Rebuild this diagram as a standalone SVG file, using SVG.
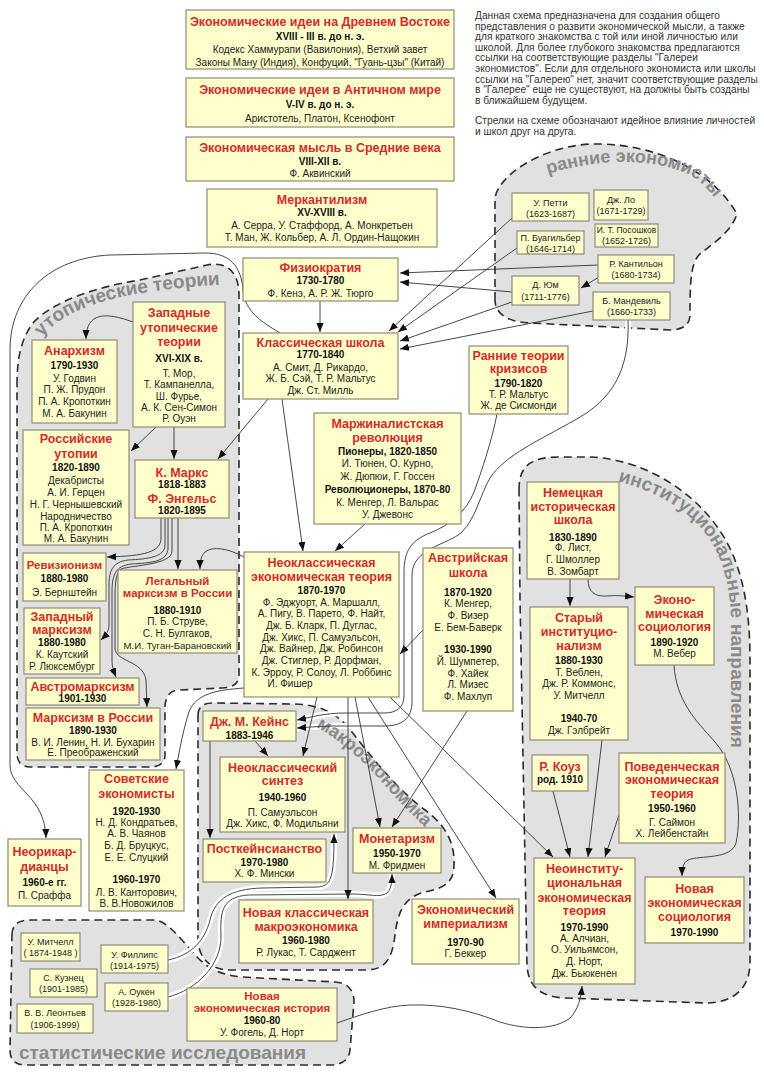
<svg xmlns="http://www.w3.org/2000/svg" width="764" height="1080" viewBox="0 0 764 1080">
<defs>
<style>
text{font-family:"Liberation Sans",Arial,sans-serif}
.box{fill:#ffffcc;stroke:#8c8c7a;stroke-width:1.2}
.t{font-size:12.5px;font-weight:bold;fill:#d42b2b;text-anchor:middle}
.t2{font-size:11.5px;font-weight:bold;fill:#d42b2b;text-anchor:middle}
.d{font-size:10px;font-weight:bold;fill:#111;text-anchor:middle}
.n{font-size:10px;fill:#222;text-anchor:middle}
.s{font-size:9px;fill:#222;text-anchor:middle}
.p{font-size:10.2px;fill:#333}
.rg{fill:#e1e1e1;stroke:#2b2b2b;stroke-width:1.6;stroke-dasharray:8 5}
.lb{font-size:19px;font-weight:bold;fill:#8a8a8a}
.c{fill:none;stroke:#333;stroke-width:0.9;marker-end:url(#a)}
.h{fill:none;stroke:#fff;stroke-width:6}
</style>
<marker id="a" viewBox="0 0 10 8" refX="10" refY="4" markerWidth="9" markerHeight="7.5" markerUnits="userSpaceOnUse" orient="auto"><path d="M0,0L10,4L0,8z" fill="#111"/></marker>
<path id="p-early" d="M548,174 C595,159 650,157 688,174 C703,182 713,194 723,212"/>
<path id="p-utop" d="M42,337 C68,304 128,290 230,284"/>
<path id="p-inst" d="M598,478 C645,484 690,508 710,540 C724,562 731,590 731,625 L731,790"/>
<path id="p-macro" d="M316,727 C340,740 362,760 380,780 C397,800 412,815 436,838"/>
</defs>
<rect width="764" height="1080" fill="#fff"/>

<g id="regions">
<path class="rg" d="M495,300 L495,200 C495,178 540,146 592,144 C655,143 712,170 737,214 C730,235 708,246 698,256 C691,266 690,280 690,315 C690,325 682,330 670,330 L530,323 C505,322 495,312 495,300 Z"/>
<path class="rg" d="M17,385 C17,355 22,338 33,323 C52,302 95,287 140,280 L207,265 C227,261 239,272 239,295 L239,675 C239,684 232,688 222,688 L180,690 C170,690 165,696 165,708 L165,755 C165,763 159,767 150,767 L30,767 C22,767 17,762 17,754 Z"/>
<path class="rg" d="M519,490 C519,466 530,457 560,457 L592,457 C642,460 690,488 718,528 C743,563 750,610 750,660 L750,962 C750,990 732,1003 705,1003 L565,998 C540,997 528,986 527,965 L520,600 Z"/>
<path class="rg" d="M198,715 C198,707 203,703 212,703 L295,704 C322,705 338,714 352,732 C372,758 398,790 425,810 C445,825 455,842 454,865 C454,882 445,888 425,892 C405,897 398,910 395,935 C392,960 385,970 365,970 L230,970 C210,970 198,958 198,938 Z"/>
<path class="rg" d="M12,935 C12,925 18,920 30,920 L155,920 C168,921 183,942 198,958 C210,970 222,975 242,977 L335,982 C348,983 354,990 354,1002 L350,1050 C349,1060 342,1065 330,1065 L25,1065 C15,1065 10,1060 10,1050 Z"/>
</g>

<g id="halos">
<path class="h" d="M497,414 C492,440 482,470 474,492 C466,512 450,525 430,533 C412,540 404,550 404,572 L404,696 C404,708 396,713 384,713 L345,713 C325,713 312,717 297,720"/>
<path class="h" d="M628,320 C630,370 612,400 575,420 C540,440 505,455 490,478 C480,495 476,518 462,532 C448,545 412,548 412,575 L412,702 C412,718 402,726 385,726 L340,726 C322,726 312,727 297,728"/>
<path class="h" d="M168,960 C192,955 205,940 210,920 C215,898 232,889 262,888 L318,887 C332,886 334,876 334,834"/>
<path class="h" d="M168,997 C196,990 222,965 221,935 C220,912 222,897 248,895 L352,894 C370,894 380,898 387,893 C391,889 392,884 392,874"/>
</g>

<g id="labels">
<text class="lb" style="font-size:18px"><textPath href="#p-early">ранние экономисты</textPath></text>
<text class="lb"><textPath href="#p-utop">утопические теории</textPath></text>
<text class="lb"><textPath href="#p-inst" startOffset="20">институциональные направления</textPath></text>
<text class="lb" style="font-size:18px"><textPath href="#p-macro">макроэкономика</textPath></text>
<text class="lb" x="19" y="1059">статистические исследования</text>
</g>

<g id="connectors">
<path class="c" d="M512,218 L389,331"/>
<path class="c" d="M517,248 L398,332"/>
<path class="c" d="M598,265 L400,273"/>
<path class="c" d="M599,277 L581,288"/>
<path class="c" d="M512,292 L400,282"/>
<path class="c" d="M512,302 L400,341"/>
<path class="c" d="M593,311 L400,349"/>
<path class="c" d="M320,301 L320,332"/>
<path class="c" d="M133,322 C106,312 86,312 86,339"/>
<path class="c" d="M156,427 L131,451"/>
<path class="c" d="M174,427 L174,459"/>
<path class="c" d="M268,399 L218,459"/>
<path class="c" d="M282,399 L303,551"/>
<path class="c" d="M365,524 L335,551"/>
<path class="c" d="M280,333 C262,322 245,312 243,290 C241,266 230,253 205,253 L110,255 C50,258 10,295 10,350 L10,765 C10,790 45,795 46,838"/>
<path class="c" d="M161,518 L161,538 C161,552 145,556 107,557"/>
<path class="c" d="M165,518 L165,545 C165,557 148,559 128,560 C113,562 109,570 109,585 L109,625 C109,631 106,635 101,640"/>
<path class="c" d="M168,518 L168,548 C168,562 150,563 131,564 C116,566 112,574 112,592 L112,660 C112,668 114,672 116,677"/>
<path class="c" d="M172,518 L172,551 C172,565 133,565 121,569 C116,573 115,582 115,598 L115,648 C115,662 143,660 146,680 L147,707"/>
<path class="c" d="M178,518 L178,569"/>
<path class="c" d="M244,557 C228,548 212,546 205,552 C201,556 200,561 200,569"/>
<path class="c" d="M423,630 L400,654"/>
<path class="c" d="M244,688 C218,690 196,693 189,712 C184,727 180,747 176,769"/>
<path class="c" d="M497,414 C492,440 482,470 474,492 C466,512 450,525 430,533 C412,540 404,550 404,572 L404,696 C404,708 396,713 384,713 L345,713 C325,713 312,717 297,720"/>
<path class="c" d="M628,320 C630,370 612,400 575,420 C540,440 505,455 490,478 C480,495 476,518 462,532 C448,545 412,548 412,575 L412,702 C412,718 402,726 385,726 L340,726 C322,726 312,727 297,728"/>
<path class="c" d="M317,697 L303,756"/>
<path class="c" d="M255,741 L268,756"/>
<path class="c" d="M210,741 L210,838"/>
<path class="c" d="M355,697 L380,827"/>
<path class="c" d="M467,711 L392,827"/>
<path class="c" d="M348,697 L348,899"/>
<path class="c" d="M368,697 L496,898"/>
<path class="c" d="M390,697 L553,857"/>
<path class="c" d="M168,960 C192,955 205,940 210,920 C215,898 232,889 262,888 L318,887 C332,886 334,876 334,834"/>
<path class="c" d="M168,997 C196,990 222,965 221,935 C220,912 222,897 248,895 L352,894 C370,894 380,898 387,893 C391,889 392,884 392,874"/>
<path class="c" d="M570,579 L570,606"/>
<path class="c" d="M588,579 C588,592 595,597 607,596 C617,595 625,596 634,597"/>
<path class="c" d="M674,665 C676,700 695,720 715,742 C738,768 742,815 736,843 C731,860 700,855 688,860 C683,863 682,868 682,876"/>
<path class="c" d="M602,740 L588,857"/>
<path class="c" d="M553,791 L570,857"/>
<path class="c" d="M619,815 L605,857"/>
<path class="c" d="M337,1023 C360,1015 385,1006 410,1005 C440,1004 470,1010 500,1022 C525,1030 555,1030 570,1018 C578,1010 581,998 582,986"/>
</g>

<g id="note">
<text class="p" x="475" y="19">Данная схема предназначена для создания общего</text>
<text class="p" x="475" y="29.6">представления о развити экономической мысли, а также</text>
<text class="p" x="475" y="40.2">для краткого знакомства с той или иной личностью или</text>
<text class="p" x="475" y="50.8">школой. Для более глубокого знакомства предлагаются</text>
<text class="p" x="475" y="61.4">ссылки на соответствующие разделы "Галереи</text>
<text class="p" x="475" y="72">экономистов". Если для отдельного экономиста или школы</text>
<text class="p" x="475" y="82.6">ссылки на "Галерею" нет, значит соответствующие разделы</text>
<text class="p" x="475" y="93.2">в "Галерее" еще не существуют, на должны быть созданы</text>
<text class="p" x="475" y="103.8">в ближайшем будущем.</text>
<text class="p" x="475" y="124">Стрелки на схеме обозначают идейное влияние личностей</text>
<text class="p" x="475" y="134.6">и школ друг на друга.</text>
</g>

<g id="n-east"><rect class="box" x="186" y="10" width="268" height="59"/>
<text class="t" x="320" y="25.5">Экономические идеи на Древнем Востоке</text>
<text class="d" x="320" y="39.5">XVIII - III в. до н. э.</text>
<text class="n" x="320" y="52.5">Кодекс Хаммурапи (Вавилония), Ветхий завет</text>
<text class="n" x="320" y="65.5">Законы Ману (Индия), Конфуций, "Гуань-цзы" (Китай)</text></g>

<g id="n-antique"><rect class="box" x="186" y="78" width="268" height="49"/>
<text class="t" x="320" y="93.5">Экономические идеи в Античном мире</text>
<text class="d" x="320" y="107.5">V-IV в. до н. э.</text>
<text class="n" x="320" y="121.5">Аристотель, Платон, Ксенофонт</text></g>

<g id="n-middle"><rect class="box" x="186" y="137" width="268" height="44"/>
<text class="t" x="320" y="151.5">Экономическая мысль в Средние века</text>
<text class="d" x="320" y="164.5">VIII-XII в.</text>
<text class="n" x="320" y="176.5">Ф. Аквинский</text></g>

<g id="n-merc"><rect class="box" x="207" y="189" width="230" height="58"/>
<text class="t" x="322" y="203.5">Меркантилизм</text>
<text class="d" x="322" y="215.5">XV-XVIII в.</text>
<text class="n" x="322" y="228.5">А. Серра, У. Стаффорд, А. Монкретьен</text>
<text class="n" x="322" y="240.5">Т. Ман, Ж. Кольбер, А. Л. Ордин-Нащокин</text></g>

<g id="n-phys"><rect class="box" x="243" y="258" width="155" height="43"/>
<text class="t" x="320.5" y="271.5">Физиократия</text>
<text class="d" x="320.5" y="283.5">1730-1780</text>
<text class="n" x="320.5" y="296.5">Ф. Кенэ, А. Р. Ж. Тюрго</text></g>

<g id="n-classic"><rect class="box" x="243" y="333" width="155" height="66"/>
<text class="t" x="320.5" y="346.5">Классическая школа</text>
<text class="d" x="320.5" y="357.5">1770-1840</text>
<text class="n" x="320.5" y="370.5">А. Смит, Д. Рикардо,</text>
<text class="n" x="320.5" y="381.5">Ж. Б. Сэй, Т. Р. Мальтус</text>
<text class="n" x="320.5" y="393.5">Дж. Ст. Милль</text></g>

<g id="n-westut"><rect class="box" x="133" y="302" width="92" height="125"/>
<text class="t" x="179" y="316.5">Западные</text>
<text class="t" x="179" y="331.5">утопические</text>
<text class="t" x="179" y="345.5">теории</text>
<text class="d" x="179" y="361.5">XVI-XIX в.</text>
<text class="n" x="179" y="376.5">Т. Мор,</text>
<text class="n" x="179" y="387.5">Т. Кампанелла,</text>
<text class="n" x="179" y="399.5">Ш. Фурье,</text>
<text class="n" x="179" y="410.5">А. К. Сен-Симон</text>
<text class="n" x="179" y="421.5">Р. Оуэн</text></g>

<g id="n-anarch"><rect class="box" x="32" y="340" width="85" height="83"/>
<text class="t" x="74.5" y="354.5">Анархизм</text>
<text class="d" x="74.5" y="368.5">1790-1930</text>
<text class="n" x="74.5" y="381.5">У. Годвин</text>
<text class="n" x="74.5" y="392.5">П. Ж. Прудон</text>
<text class="n" x="74.5" y="404.5">П. А. Кропоткин</text>
<text class="n" x="74.5" y="416.5">М. А. Бакунин</text></g>

<g id="n-rusut"><rect class="box" x="23" y="430" width="106" height="115"/>
<text class="t" x="76" y="442.5">Российские</text>
<text class="t" x="76" y="457.5">утопии</text>
<text class="d" x="76" y="470.5">1820-1890</text>
<text class="n" x="76" y="483.5">Декабристы</text>
<text class="n" x="76" y="495.5">А. И. Герцен</text>
<text class="n" x="76" y="507.5">Н. Г. Чернышевский</text>
<text class="n" x="76" y="519.5">Народничество</text>
<text class="n" x="76" y="530.5">П. А. Кропоткин</text>
<text class="n" x="76" y="541.5">М. А. Бакунин</text></g>

<g id="n-marx"><rect class="box" x="135" y="460" width="94" height="58"/>
<text class="t" x="182" y="476.5">К. Маркс</text>
<text class="d" x="182" y="487.5">1818-1883</text>
<text class="t" x="182" y="502.5">Ф. Энгельс</text>
<text class="d" x="182" y="513.5">1820-1895</text></g>

<g id="n-marg"><rect class="box" x="314" y="413" width="147" height="111"/>
<text class="t" x="387.5" y="427.5">Маржиналистская</text>
<text class="t" x="387.5" y="441.5">революция</text>
<text class="d" x="387.5" y="454.5">Пионеры, 1820-1850</text>
<text class="n" x="387.5" y="466.5">И. Тюнен, О. Курно,</text>
<text class="n" x="387.5" y="479.5">Ж. Дюпюи, Г. Госсен</text>
<text class="d" x="387.5" y="492.5">Революционеры, 1870-80</text>
<text class="n" x="387.5" y="505.5">К. Менгер, Л. Вальрас</text>
<text class="n" x="387.5" y="517.5">У. Джевонс</text></g>

<g id="n-crisis"><rect class="box" x="469" y="346" width="99" height="68"/>
<text class="t" x="518.5" y="359.5">Ранние теории</text>
<text class="t" x="518.5" y="372.5">кризисов</text>
<text class="d" x="518.5" y="386.5">1790-1820</text>
<text class="n" x="518.5" y="397.5">Т. Р. Мальтус</text>
<text class="n" x="518.5" y="408.5">Ж. де Сисмонди</text></g>

<g id="n-petty"><rect class="box" x="512" y="193" width="77" height="28"/>
<text class="s" x="550.5" y="206">У. Петти</text><text class="s" x="550.5" y="216.5">(1623-1687)</text></g>
<g id="n-law"><rect class="box" x="594" y="190" width="54" height="30"/>
<text class="s" x="621" y="202.5">Дж. Ло</text><text class="s" x="621" y="213.5">(1671-1729)</text></g>
<g id="n-pososh"><rect class="box" x="595" y="224" width="63" height="23"/>
<text class="s" x="626.5" y="232.5" style="font-size:8.5px">И. Т. Посошков</text><text class="s" x="626.5" y="243.5">(1652-1726)</text></g>
<g id="n-boisg"><rect class="box" x="517" y="231" width="67" height="23"/>
<text class="s" x="550.5" y="241">П. Буагильбер</text><text class="s" x="550.5" y="251.5">(1646-1714)</text></g>
<g id="n-cantil"><rect class="box" x="598" y="255" width="76" height="28"/>
<text class="s" x="636" y="267">Р. Кантильон</text><text class="s" x="636" y="277.5">(1680-1734)</text></g>
<g id="n-hume"><rect class="box" x="512" y="276" width="67" height="29"/>
<text class="s" x="545.5" y="288">Д. Юм</text><text class="s" x="545.5" y="300">(1711-1776)</text></g>
<g id="n-mandev"><rect class="box" x="593" y="292" width="77" height="28"/>
<text class="s" x="631.5" y="304">Б. Мандевиль</text><text class="s" x="631.5" y="315">(1660-1733)</text></g>

<g id="n-revis"><rect class="box" x="23" y="553" width="83" height="48"/>
<text class="t2" x="64.5" y="568.5">Ревизионизм</text>
<text class="d" x="64.5" y="581.5">1880-1980</text>
<text class="n" x="64.5" y="595.5">Э. Бернштейн</text></g>

<g id="n-legal"><rect class="box" x="118" y="570" width="119" height="83"/>
<text class="t2" x="177.5" y="585">Легальный</text>
<text class="t2" x="177.5" y="597">марксизм в России</text>
<text class="d" x="177.5" y="613.5">1880-1910</text>
<text class="n" x="177.5" y="624.5">П. Б. Струве,</text>
<text class="n" x="177.5" y="636.5">С. Н. Булгаков,</text>
<text class="n" x="177.5" y="648.5" style="font-size:9.6px">М.И. Туган-Барановский</text></g>

<g id="n-westmarx"><rect class="box" x="24" y="608" width="76" height="66"/>
<text class="t" x="62" y="620.5">Западный</text>
<text class="t" x="62" y="633.5">марксизм</text>
<text class="d" x="62" y="645.5">1880-1980</text>
<text class="n" x="62" y="657.5">К. Каутский</text>
<text class="n" x="62" y="669.5">Р. Люксембург</text></g>

<g id="n-austromarx"><rect class="box" x="26" y="678" width="113" height="27"/>
<text class="t" x="82.5" y="690.5">Австромарксизм</text>
<text class="d" x="82.5" y="701.5">1901-1930</text></g>

<g id="n-marxrus"><rect class="box" x="26" y="708" width="134" height="52"/>
<text class="t" x="93" y="721.5">Марксизм в России</text>
<text class="d" x="93" y="733.5">1890-1930</text>
<text class="n" x="93" y="745.5">В. И. Ленин, Н. И. Бухарин</text>
<text class="n" x="93" y="755.5">Е. Преображенский</text></g>

<g id="n-neocl"><rect class="box" x="244" y="552" width="155" height="145"/>
<text class="t" x="321.5" y="566.5">Неоклассическая</text>
<text class="t" x="321.5" y="580.5">экономическая теория</text>
<text class="d" x="321.5" y="593.5">1870-1970</text>
<text class="n" x="321.5" y="605.5">Ф. Эджуорт, А. Маршалл,</text>
<text class="n" x="321.5" y="617.2">А. Пигу, В. Парето, Ф. Найт,</text>
<text class="n" x="321.5" y="628.9">Дж. Б. Кларк, П. Дуглас,</text>
<text class="n" x="321.5" y="640.6">Дж. Хикс, П. Самуэльсон,</text>
<text class="n" x="321.5" y="652.3">Дж. Вайнер, Дж. Робинсон</text>
<text class="n" x="321.5" y="664">Дж. Стиглер, Р. Дорфман,</text>
<text class="n" x="321.5" y="675.7">К. Эрроу, Р. Солоу, Л. Роббинс</text>
<text class="n" x="290" y="687.4">И. Фишер</text></g>

<g id="n-austr"><rect class="box" x="423" y="548" width="90" height="163"/>
<text class="t" x="468" y="561.5">Австрийская</text>
<text class="t" x="468" y="576.5">школа</text>
<text class="d" x="468" y="595.5">1870-1920</text>
<text class="n" x="468" y="606.5">К. Менгер,</text>
<text class="n" x="468" y="618.5">Ф. Визер</text>
<text class="n" x="468" y="630.5">Е. Бем-Баверк</text>
<text class="d" x="468" y="652.5">1930-1990</text>
<text class="n" x="468" y="664.5">Й. Шумпетер,</text>
<text class="n" x="468" y="676.5">Ф. Хайек</text>
<text class="n" x="468" y="687.5">Л. Мизес</text>
<text class="n" x="468" y="699.5">Ф. Махлуп</text></g>

<g id="n-german"><rect class="box" x="527" y="482" width="92" height="97"/>
<text class="t" x="573" y="496.5">Немецкая</text>
<text class="t" x="573" y="510.5">историческая</text>
<text class="t" x="573" y="523.5">школа</text>
<text class="d" x="573" y="540.5">1830-1890</text>
<text class="n" x="573" y="550.5">Ф. Лист,</text>
<text class="n" x="573" y="562.5">Г. Шмоллер</text>
<text class="n" x="573" y="574.5">В. Зомбарт</text></g>

<g id="n-oldinst"><rect class="box" x="530" y="607" width="98" height="133"/>
<text class="t" x="579" y="621.5">Старый</text>
<text class="t" x="579" y="635.5">институцио-</text>
<text class="t" x="579" y="649.5">нализм</text>
<text class="d" x="579" y="663.5">1880-1930</text>
<text class="n" x="579" y="675.5">Т. Веблен,</text>
<text class="n" x="579" y="686.5">Дж. Р. Коммонс,</text>
<text class="n" x="579" y="698.5">У. Митчелл</text>
<text class="d" x="579" y="721.5">1940-70</text>
<text class="n" x="579" y="733.5">Дж. Гэлбрейт</text></g>

<g id="n-ecsoc"><rect class="box" x="635" y="587" width="79" height="78"/>
<text class="t" x="674.5" y="603.5">Эконо-</text>
<text class="t" x="674.5" y="617.5">мическая</text>
<text class="t" x="674.5" y="630.5">социология</text>
<text class="d" x="674.5" y="645.5">1890-1920</text>
<text class="n" x="674.5" y="656.5">М. Вебер</text></g>

<g id="n-coase"><rect class="box" x="532" y="755" width="56" height="36"/>
<text class="t" x="560" y="770.5">Р. Коуз</text>
<text class="d" x="560" y="782.5">род. 1910</text></g>

<g id="n-behav"><rect class="box" x="619" y="753" width="106" height="90"/>
<text class="t" x="672" y="770.5">Поведенческая</text>
<text class="t" x="672" y="783.5">экономическая</text>
<text class="t" x="672" y="797.5">теория</text>
<text class="d" x="672" y="811.5">1950-1960</text>
<text class="n" x="672" y="825.5">Г. Саймон</text>
<text class="n" x="672" y="836.5">Х. Лейбенстайн</text></g>

<g id="n-neoinst"><rect class="box" x="534" y="858" width="101" height="126"/>
<text class="t" x="584.5" y="872.5">Неоинститу-</text>
<text class="t" x="584.5" y="886.5">циональная</text>
<text class="t" x="584.5" y="901.5">экономическая</text>
<text class="t" x="584.5" y="914.5">теория</text>
<text class="d" x="584.5" y="930.5">1970-1990</text>
<text class="n" x="584.5" y="941.5">А. Алчиан,</text>
<text class="n" x="584.5" y="953.2">О. Уильямсон,</text>
<text class="n" x="584.5" y="964.9">Д. Норт,</text>
<text class="n" x="584.5" y="976.6">Дж. Бьюкенен</text></g>

<g id="n-newecsoc"><rect class="box" x="645" y="877" width="99" height="66"/>
<text class="t" x="694.5" y="892.5">Новая</text>
<text class="t" x="694.5" y="906.5">экономическая</text>
<text class="t" x="694.5" y="920.5">социология</text>
<text class="d" x="694.5" y="935.5">1970-1990</text></g>

<g id="n-imper"><rect class="box" x="412" y="899" width="107" height="65"/>
<text class="t" x="465.5" y="913.5">Экономический</text>
<text class="t" x="465.5" y="927.5">империализм</text>
<text class="d" x="465.5" y="945.5">1970-90</text>
<text class="n" x="465.5" y="956.5">Г. Беккер</text></g>

<g id="n-monet"><rect class="box" x="353" y="828" width="88" height="45"/>
<text class="t" x="397" y="842.5">Монетаризм</text>
<text class="d" x="397" y="856.5">1950-1970</text>
<text class="n" x="397" y="868.5">М. Фридмен</text></g>

<g id="n-keynes"><rect class="box" x="203" y="711" width="93" height="30"/>
<text class="t" x="249.5" y="725.5">Дж. М. Кейнс</text>
<text class="d" x="249.5" y="738.5">1883-1946</text></g>

<g id="n-ns"><rect class="box" x="220" y="757" width="125" height="75"/>
<text class="t" x="282.5" y="771.5">Неоклассический</text>
<text class="t" x="282.5" y="784.5">синтез</text>
<text class="d" x="282.5" y="800.5">1940-1960</text>
<text class="n" x="282.5" y="815.5">П. Самуэльсон</text>
<text class="n" x="282.5" y="826.5">Дж. Хикс, Ф. Модильяни</text></g>

<g id="n-postk"><rect class="box" x="203" y="839" width="123" height="43"/>
<text class="t" x="264.5" y="852.5">Посткейнсианство</text>
<text class="d" x="264.5" y="865.5">1970-1980</text>
<text class="n" x="264.5" y="876.5">Х. Ф. Мински</text></g>

<g id="n-ncmacro"><rect class="box" x="239" y="900" width="134" height="63"/>
<text class="t" x="306" y="916.5">Новая классическая</text>
<text class="t" x="306" y="930.5">макроэкономика</text>
<text class="d" x="306" y="943.5">1960-1980</text>
<text class="n" x="306" y="955.5">Р. Лукас, Т. Сарджент</text></g>

<g id="n-soviet"><rect class="box" x="89" y="770" width="95" height="141"/>
<text class="t" x="136.5" y="782.5">Советские</text>
<text class="t" x="136.5" y="797.5">экономисты</text>
<text class="d" x="136.5" y="814.5">1920-1930</text>
<text class="n" x="136.5" y="825.5">Н. Д. Кондратьев,</text>
<text class="n" x="136.5" y="836.5">А. В. Чаянов</text>
<text class="n" x="136.5" y="848.5">Б. Д. Бруцкус,</text>
<text class="n" x="136.5" y="860.5">Е. Е. Слуцкий</text>
<text class="d" x="136.5" y="882.5">1960-1970</text>
<text class="n" x="136.5" y="895.5">Л. В. Канторович,</text>
<text class="n" x="136.5" y="906.5">В. В.Новожилов</text></g>

<g id="n-neoric"><rect class="box" x="8" y="839" width="73" height="67"/>
<text class="t" x="44.5" y="855.5">Неорикар-</text>
<text class="t" x="44.5" y="870.5">дианцы</text>
<text class="d" x="44.5" y="885.5">1960-е гг.</text>
<text class="n" x="44.5" y="898.5">П. Сраффа</text></g>

<g id="n-mitchell"><rect class="box" x="21" y="933" width="59" height="28"/>
<text class="s" x="50.5" y="945">У. Митчелл</text><text class="s" x="50.5" y="956">( 1874-1948 )</text></g>
<g id="n-kuznets"><rect class="box" x="30" y="969" width="67" height="28"/>
<text class="s" x="63.5" y="981">С. Кузнец</text><text class="s" x="63.5" y="992">(1901-1985)</text></g>
<g id="n-leont"><rect class="box" x="17" y="1004" width="76" height="29"/>
<text class="s" x="55" y="1016">В. В. Леонтьев</text><text class="s" x="55" y="1028">(1906-1999)</text></g>
<g id="n-phillips"><rect class="box" x="101" y="945" width="67" height="28"/>
<text class="s" x="134.5" y="958">У. Филлипс</text><text class="s" x="134.5" y="969">(1914-1975)</text></g>
<g id="n-okun"><rect class="box" x="105" y="983" width="63" height="28"/>
<text class="s" x="136.5" y="995">А. Оукен</text><text class="s" x="136.5" y="1006">(1928-1980)</text></g>

<g id="n-neh"><rect class="box" x="187" y="988" width="150" height="53"/>
<text class="t2" x="262" y="1000">Новая</text>
<text class="t2" x="262" y="1012">экономическая история</text>
<text class="d" x="262" y="1023.5">1960-80</text>
<text class="n" x="262" y="1035.5">У. Фогель, Д. Норт</text></g>
</svg>
